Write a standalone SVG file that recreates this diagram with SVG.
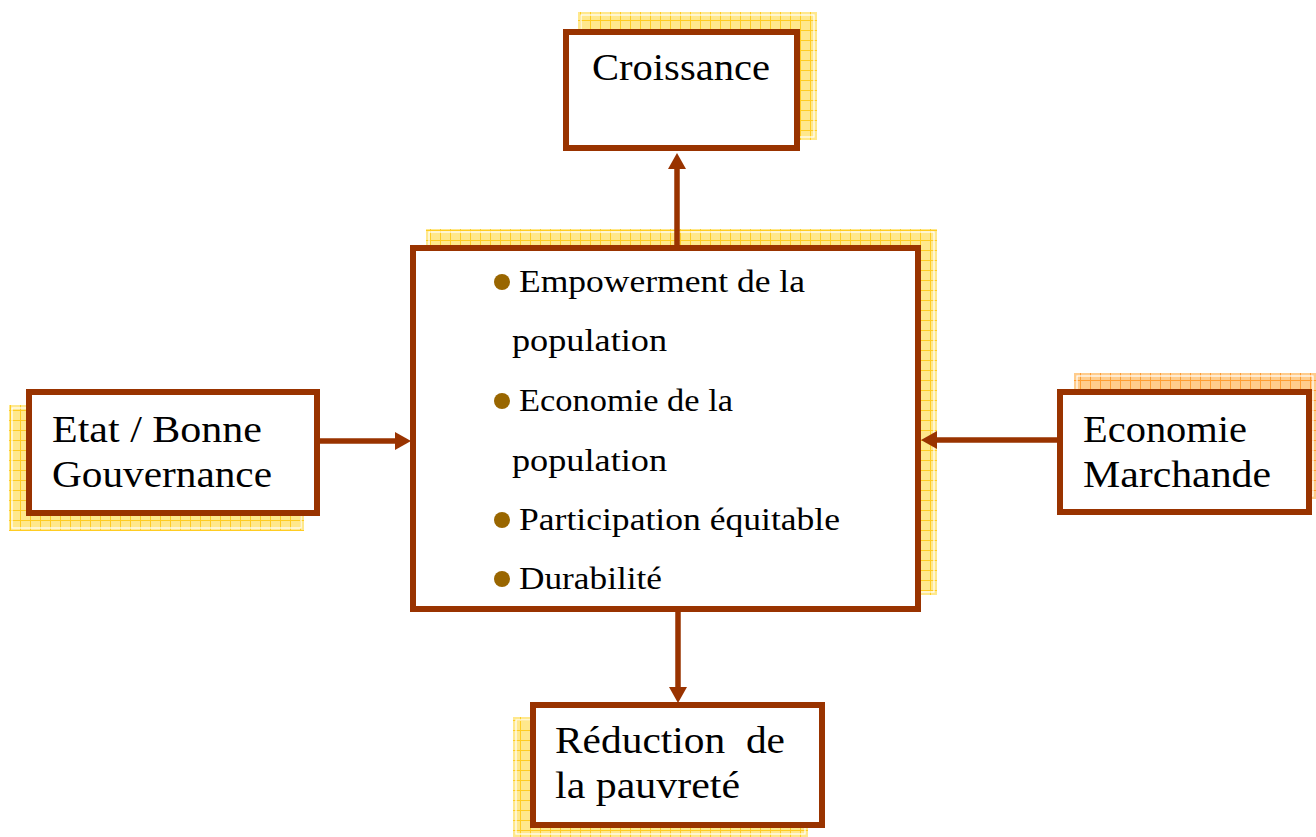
<svg xmlns="http://www.w3.org/2000/svg" width="1316" height="837" viewBox="0 0 1316 837">
<defs>
<pattern id="gy" width="10" height="10" patternUnits="userSpaceOnUse">
<rect width="10" height="10" fill="#FFE88C"/>
<path d="M0 0.5H10M0.5 0V10" stroke="#FFCC22" stroke-width="1"/>
</pattern>
<pattern id="go" width="10" height="10" patternUnits="userSpaceOnUse">
<rect width="10" height="10" fill="#FFCC8C"/>
<path d="M0 0.5H10M0.5 0V10" stroke="#FF9E33" stroke-width="1"/>
</pattern>
<marker id="ah" viewBox="0 0 16 18" refX="4" refY="9" markerWidth="16" markerHeight="18" markerUnits="userSpaceOnUse" orient="auto">
<path d="M0 0L16 9L0 18Z" fill="#993300"/>
</marker>
<style>
.box{fill:#fff;stroke:#993300;stroke-width:6}
.sh{fill:url(#gy)}
.sho{fill:url(#go)}
.inner{fill:none;stroke:#fff;stroke-width:1.2}
.t{font-family:"Liberation Serif","Times New Roman",serif;font-size:38px;fill:#000}
.b{font-family:"Liberation Serif","Times New Roman",serif;font-size:32px;fill:#000}
.bul{fill:#996600}
.con{stroke:#993300;stroke-width:5.5;fill:none;marker-end:url(#ah)}
</style>
</defs>

<g id="node-croissance">
<rect class="sh" x="578" y="12" width="239" height="128"/>
<rect class="inner" x="581" y="15" width="233" height="122"/>
<rect class="box" x="566" y="32" width="231" height="116"/>
<text class="t" x="592" y="80" textLength="178" lengthAdjust="spacingAndGlyphs">Croissance</text>
</g>

<g id="node-centre">
<rect class="sh" x="426" y="229" width="511" height="366"/>
<rect class="inner" x="429" y="232" width="505" height="360"/>
<rect class="box" x="413" y="248" width="505" height="361"/>
<circle class="bul" cx="502" cy="282" r="8"/>
<text class="b" x="519" y="292" textLength="286" lengthAdjust="spacingAndGlyphs">Empowerment de la</text>
<text class="b" x="512" y="351" textLength="155" lengthAdjust="spacingAndGlyphs">population</text>
<circle class="bul" cx="502" cy="401" r="8"/>
<text class="b" x="519" y="411" textLength="214" lengthAdjust="spacingAndGlyphs">Economie de la</text>
<text class="b" x="512" y="471" textLength="155" lengthAdjust="spacingAndGlyphs">population</text>
<circle class="bul" cx="502" cy="520" r="8"/>
<text class="b" x="519" y="530" textLength="321" lengthAdjust="spacingAndGlyphs">Participation équitable</text>
<circle class="bul" cx="502" cy="579" r="8"/>
<text class="b" x="519" y="589" textLength="143" lengthAdjust="spacingAndGlyphs">Durabilité</text>
</g>

<g id="node-etat">
<rect class="sh" x="9" y="405" width="295" height="126"/>
<rect class="inner" x="12" y="408" width="289" height="120"/>
<rect class="box" x="29" y="392" width="288" height="121"/>
<text class="t" x="52" y="442" textLength="210" lengthAdjust="spacingAndGlyphs">Etat / Bonne</text>
<text class="t" x="52" y="487" textLength="220" lengthAdjust="spacingAndGlyphs">Gouvernance</text>
</g>

<g id="node-economie">
<rect class="sho" x="1074" y="373" width="242" height="126"/>
<rect class="inner" x="1077" y="376" width="236" height="120"/>
<rect class="box" x="1060" y="392" width="249" height="120"/>
<text class="t" x="1083" y="442" textLength="164" lengthAdjust="spacingAndGlyphs">Economie</text>
<text class="t" x="1083" y="487" textLength="188" lengthAdjust="spacingAndGlyphs">Marchande</text>
</g>

<g id="node-reduction">
<rect class="sh" x="513" y="717" width="295" height="120"/>
<rect class="inner" x="516" y="720" width="289" height="114"/>
<rect class="box" x="533" y="705" width="289" height="120"/>
<text class="t" x="555" y="753" textLength="230" lengthAdjust="spacingAndGlyphs">Réduction&#160; de</text>
<text class="t" x="555" y="798" textLength="185" lengthAdjust="spacingAndGlyphs">la pauvreté</text>
</g>

<g id="connectors">
<line class="con" x1="677" y1="245" x2="677" y2="165"/>
<line class="con" x1="678" y1="612" x2="678" y2="691"/>
<line class="con" x1="320" y1="441" x2="399" y2="441"/>
<line class="con" x1="1057" y1="440" x2="933" y2="440"/>
</g>
</svg>
